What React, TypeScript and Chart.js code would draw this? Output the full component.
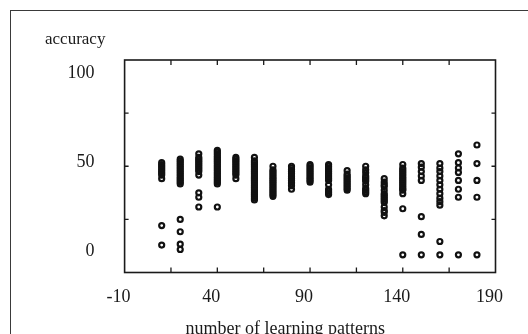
import React, { useEffect, useRef } from 'react';
import { Chart, registerables } from 'chart.js';

Chart.register(...registerables);

// number of learning patterns (x positions of the columns)
const patterns = [10, 20, 30, 40, 50, 60, 70, 80, 90, 100, 110, 120, 130, 140, 150, 160, 170, 180];

// accuracy values observed in each column
const acc10 = [52, 51, 50, 49, 48, 47, 46, 45, 43, 16.5, 5.5];
const acc20 = [54, 53, 52, 51, 50, 49, 48, 47, 46, 45, 44, 43, 42, 41, 40, 20, 13, 6, 3];
const acc30 = [57, 55, 54, 53, 52, 51, 50, 49, 48, 47, 45, 35, 32.5, 27];
const acc40 = [59, 58, 57, 56, 55, 54, 53, 52, 51, 50, 49, 48, 47, 46, 45, 44, 43, 42, 41, 40, 27];
const acc50 = [55, 54, 53, 52, 51, 50, 49, 48, 47, 46, 45, 43];
const acc60 = [55, 53, 52, 51, 50, 49, 48, 47, 46, 45, 44, 43, 42, 41, 40, 39, 38, 37, 36, 35, 34, 33, 32, 31];
const acc70 = [50, 48, 47, 46, 45, 44, 43, 42, 41, 40, 39, 38, 37, 36, 35, 34, 33];
const acc80 = [50, 49, 48, 47, 46, 45, 44, 43, 42, 41, 40, 39, 37];
const acc90 = [51, 50, 49, 48, 47, 46, 45, 44, 43, 42, 41];
const acc100 = [51, 50, 49, 48, 47, 46, 45, 44, 43, 42, 39.5, 37, 36, 35, 34];
const acc110 = [47.5, 45.5, 44.5, 43.5, 42.5, 41.5, 40.5, 39.5, 38.5, 37.5, 36.5];
const acc120 = [50, 48, 46.4, 44.5, 43.5, 42.5, 41.5, 39.5, 37.5, 36.5, 35.5, 34.5];
const acc130 = [43, 41, 39.5, 38.5, 36.5, 34.5, 33.5, 32.5, 31.5, 30.5, 29.5, 27, 25, 24, 22];
const acc140 = [51, 49, 48, 47, 46, 45, 44, 43, 42, 41, 40, 39, 38, 37, 36.5, 34.5, 26, 0];
const acc150 = [51.5, 49.5, 47, 44.5, 42, 21.5, 11.5, 0];
const acc160 = [51.5, 49, 47, 44.5, 42, 39.5, 37, 34.5, 32, 30, 28, 7.5, 0];
const acc170 = [57, 52, 49, 46.5, 42, 37, 32.5, 0];
const acc180 = [62, 51.5, 42, 32.5, 0];

const accuracyByPattern = [
  acc10, acc20, acc30, acc40, acc50, acc60, acc70, acc80, acc90,
  acc100, acc110, acc120, acc130, acc140, acc150, acc160, acc170, acc180,
];

const xTickLabels = [-10, 40, 90, 140, 190];
const yTickLabels = [0, 50, 100];
const xTickMarks = [15, 40, 65, 90, 115, 140, 165];
const yTickMarks = [20, 50, 80];

const yTitle = 'accuracy';
const xTitle = 'number of learning patterns';

const FONT = "'Liberation Serif', 'Times New Roman', serif";
const INK = '#1a1a1a';

const framePlugin = {
  id: 'frame',
  afterDatasetsDraw(chart: any) {
    const { ctx, chartArea: a, scales } = chart;
    const x = scales.x;
    const y = scales.y;
    ctx.save();
    ctx.strokeStyle = INK;
    ctx.lineWidth = 1.6;
    ctx.strokeRect(a.left, a.top, a.right - a.left, a.bottom - a.top);
    ctx.lineWidth = 1.3;
    ctx.beginPath();
    for (const v of xTickMarks) {
      const px = x.getPixelForValue(v);
      ctx.moveTo(px, a.bottom);
      ctx.lineTo(px, a.bottom - 5);
      ctx.moveTo(px, a.top);
      ctx.lineTo(px, a.top + 5);
    }
    for (const v of yTickMarks) {
      const py = y.getPixelForValue(v);
      ctx.moveTo(a.left, py);
      ctx.lineTo(a.left + 4, py);
      ctx.moveTo(a.right, py);
      ctx.lineTo(a.right - 4, py);
    }
    ctx.stroke();
    ctx.restore();
  },
};

export default function App() {
  const ref = useRef<HTMLCanvasElement>(null);

  useEffect(() => {
    const points = patterns.flatMap((p, i) => accuracyByPattern[i].map((v) => ({ x: p, y: v })));
    const chart = new Chart(ref.current as HTMLCanvasElement, {
      type: 'scatter',
      data: {
        datasets: [
          {
            data: points,
            pointStyle: 'circle',
            pointRadius: 2.5,
            pointHoverRadius: 2.5,
            pointBorderWidth: 2.2,
            borderColor: '#111',
            backgroundColor: 'rgba(0,0,0,0)',
            showLine: false,
          },
        ],
      },
      options: {
        animation: false,
        responsive: false,
        devicePixelRatio: 1,
        events: [],
        layout: { padding: { left: 45, right: 32.5, top: 0, bottom: 0 } },
        plugins: {
          legend: { display: false },
          tooltip: { enabled: false },
          title: {
            display: true,
            text: yTitle,
            align: 'start',
            color: INK,
            font: { family: FONT, size: 17, weight: 'normal', lineHeight: 1.2 },
            padding: { top: 29.3, bottom: 10.3 },
          },
        },
        scales: {
          x: {
            type: 'linear',
            min: -10,
            max: 190,
            afterBuildTicks: (s: any) => {
              s.ticks = xTickLabels.map((v) => ({ value: v }));
            },
            afterFit: (s: any) => {
              s.height = 61.5;
            },
            grid: { display: false, drawTicks: false },
            border: { display: false },
            ticks: {
              autoSkip: false,
              maxRotation: 0,
              padding: 13.5,
              labelOffset: -6,
              color: INK,
              font: { family: FONT, size: 18 },
            },
            title: {
              display: true,
              text: xTitle + ' '.repeat(11),
              color: INK,
              font: { family: FONT, size: 18, lineHeight: 1.2 },
              padding: { top: 0, bottom: -6.5 },
            },
          },
          y: {
            type: 'linear',
            min: -10,
            max: 110,
            afterBuildTicks: (s: any) => {
              s.ticks = yTickLabels.map((v) => ({ value: v }));
            },
            afterFit: (s: any) => {
              s.width = 79.6;
            },
            grid: { display: false, drawTicks: false },
            border: { display: false },
            ticks: {
              autoSkip: false,
              padding: 30,
              labelOffset: -4,
              color: INK,
              font: { family: FONT, size: 18 },
            },
          },
        },
      } as any,
      plugins: [framePlugin],
    });
    return () => chart.destroy();
  }, []);

  return (
    <div
      style={{
        position: 'fixed',
        left: 0,
        top: 0,
        width: 528,
        height: 334,
        overflow: 'hidden',
        background: '#fff',
      }}
    >
      <div
        style={{
          position: 'absolute',
          left: 10,
          top: 10,
          width: 560,
          height: 360,
          borderLeft: '1px solid #3a3a3a',
          borderTop: '1px solid #3a3a3a',
        }}
      />
      <canvas
        ref={ref}
        width={528}
        height={334}
        style={{ position: 'absolute', left: 0, top: 0, width: 528, height: 334 }}
      />
    </div>
  );
}
